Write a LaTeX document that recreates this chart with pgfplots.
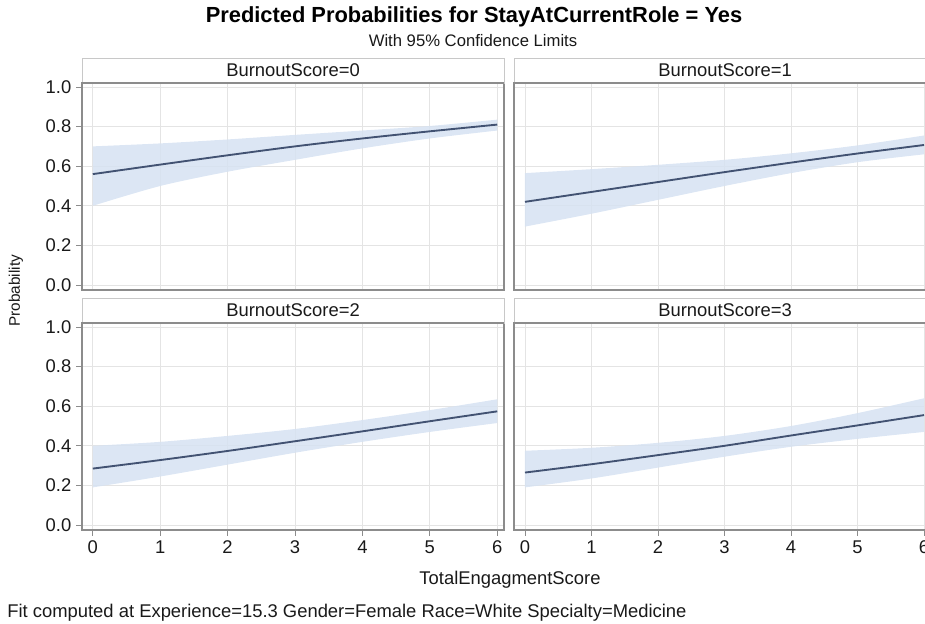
\documentclass[border=0pt]{standalone}
\usepackage{fontspec}
\setmainfont{Liberation Sans}
\usepackage{pgfplots}
\usepackage{pgfplotstable}
\pgfplotsset{compat=1.18}
\usepgfplotslibrary{fillbetween}
\definecolor{bandc}{RGB}{214,226,242}
\definecolor{fitc}{RGB}{66,82,114}
\definecolor{gridc}{RGB}{228,228,228}
\definecolor{framec}{RGB}{140,140,140}
\definecolor{headc}{RGB}{200,200,200}

% x fit lo hi
\pgfplotstableread{
x fit lo hi
0 0.560 0.400 0.700
1 0.608 0.500 0.715
2 0.655 0.572 0.735
3 0.700 0.632 0.758
4 0.740 0.690 0.780
5 0.776 0.740 0.803
6 0.810 0.780 0.835
}\tA
\pgfplotstableread{
x fit lo hi
0 0.420 0.295 0.565
1 0.470 0.360 0.585
2 0.520 0.430 0.607
3 0.570 0.500 0.632
4 0.618 0.565 0.665
5 0.664 0.620 0.705
6 0.707 0.660 0.755
}\tB
\pgfplotstableread{
x fit lo hi
0 0.285 0.190 0.400
1 0.328 0.245 0.420
2 0.374 0.305 0.450
3 0.423 0.365 0.485
4 0.473 0.420 0.530
5 0.524 0.470 0.580
6 0.574 0.515 0.635
}\tC
\pgfplotstableread{
x fit lo hi
0 0.265 0.190 0.375
1 0.307 0.235 0.390
2 0.353 0.290 0.415
3 0.400 0.345 0.450
4 0.452 0.395 0.500
5 0.503 0.435 0.565
6 0.555 0.470 0.640
}\tD

\newcommand{\regfont}{\fontsize{13.8pt}{16pt}\selectfont}
\pgfplotsset{
  panel/.style={
    scale only axis, width=316.5pt, height=155.25pt,
    xmin=-0.16, xmax=6.1, ymin=-0.025, ymax=1.02,
    xtick={0,1,2,3,4,5,6}, ytick={0,0.2,0.4,0.6,0.8,1},
    grid=major, major grid style={gridc, line width=0.6pt},
    axis line style={framec, line width=0.9pt},
    tick style={framec, line width=0.6pt},
    tick align=outside, major tick length=4.5pt,
    xtick pos=bottom, ytick pos=left,
    ticklabel style={font=\regfont, black!90},
    /pgf/number format/assume math mode=true,
    yticklabel style={/pgf/number format/.cd, fixed, fixed zerofill, precision=1},
    clip=true,
  },
  rightpanel/.style={xmin=-0.165, xmax=6.18},
  noxlab/.style={xticklabel=\empty, xtick style={draw=none}},
  noylab/.style={yticklabel=\empty, ytick style={draw=none}},
}
\newcommand{\panelplots}[1]{%
  \addplot[name path=hi, draw=none, smooth] table[x=x,y=hi]{#1};
  \addplot[name path=lo, draw=none, smooth] table[x=x,y=lo]{#1};
  \addplot[fill=bandc, fill opacity=0.85, draw=none] fill between[of=hi and lo];
  \addplot[fitc, line width=1.4pt, smooth] table[x=x,y=fit]{#1};
}

\begin{document}
\begin{tikzpicture}
% top-left
\begin{axis}[panel, noxlab, at={(61.5pt,250.5pt)}, anchor=south west]
\panelplots{\tA}
\end{axis}
% top-right
\begin{axis}[panel, rightpanel, noxlab, noylab, at={(385.5pt,250.5pt)}, anchor=south west]
\panelplots{\tB}
\end{axis}
% bottom-left
\begin{axis}[panel, at={(61.5pt,70.5pt)}, anchor=south west]
\panelplots{\tC}
\end{axis}
% bottom-right
\begin{axis}[panel, rightpanel, noylab, at={(385.5pt,70.5pt)}, anchor=south west]
\panelplots{\tD}
\end{axis}

% headers
\draw[headc, line width=0.6pt] (61.5pt,405.75pt) rectangle (378pt,424.5pt);
\draw[headc, line width=0.6pt] (385.5pt,405.75pt) rectangle (702pt,424.5pt);
\draw[headc, line width=0.6pt] (61.5pt,225.75pt) rectangle (378pt,244.5pt);
\draw[headc, line width=0.6pt] (385.5pt,225.75pt) rectangle (702pt,244.5pt);
\draw[framec, line width=0.9pt] (61.5pt,405.75pt) -- (378pt,405.75pt);
\draw[framec, line width=0.9pt] (385.5pt,405.75pt) -- (702pt,405.75pt);
\draw[framec, line width=0.9pt] (61.5pt,225.75pt) -- (378pt,225.75pt);
\draw[framec, line width=0.9pt] (385.5pt,225.75pt) -- (702pt,225.75pt);
\node[font=\regfont, black!90] at (219.75pt,415.1pt) {BurnoutScore=0};
\node[font=\regfont, black!90] at (543.75pt,415.1pt) {BurnoutScore=1};
\node[font=\regfont, black!90] at (219.75pt,235.1pt) {BurnoutScore=2};
\node[font=\regfont, black!90] at (543.75pt,235.1pt) {BurnoutScore=3};

% titles and labels
\node[font=\fontsize{16.4pt}{19pt}\selectfont\bfseries] at (355.5pt,455pt) {Predicted Probabilities for StayAtCurrentRole = Yes};
\node[font=\fontsize{12.5pt}{14pt}\selectfont, black!90] at (354.75pt,437.5pt) {With 95\% Confidence Limits};
\node[font=\fontsize{11.5pt}{13pt}\selectfont, black!90, rotate=90] at (12pt,250pt) {Probability};
\node[font=\regfont, black!90] at (382.5pt,33pt) {TotalEngagmentScore};
\node[font=\regfont, black!90, anchor=west] at (2pt,8.25pt) {Fit computed at Experience=15.3 Gender=Female Race=White Specialty=Medicine};

\pgfresetboundingbox
\path[use as bounding box] (0,0) rectangle (693.75pt,468pt);
\end{tikzpicture}
\end{document}
